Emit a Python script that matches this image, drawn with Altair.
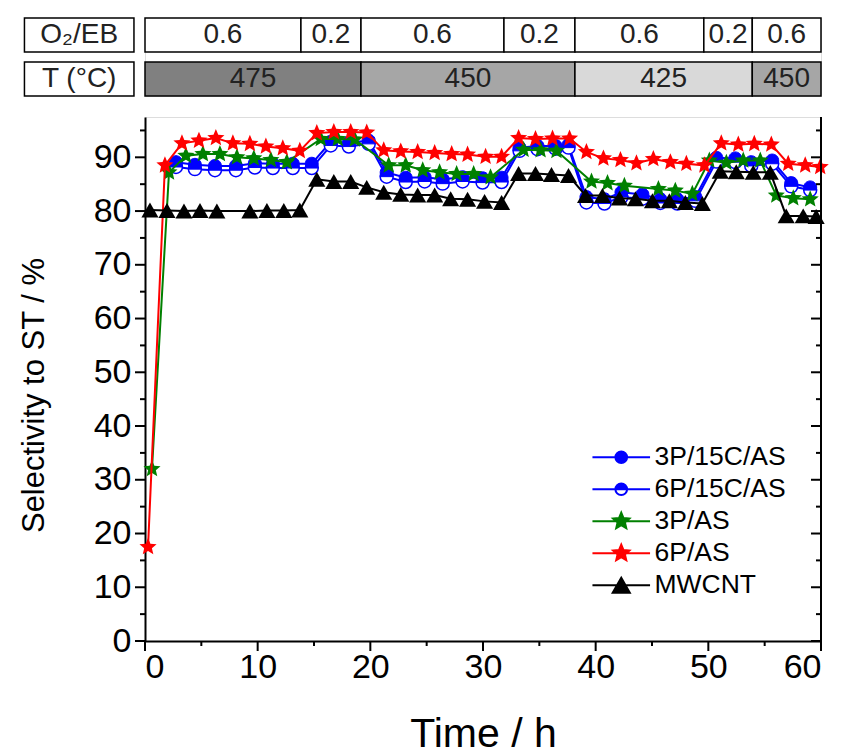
import altair as alt
import pandas as pd
import numpy as np

# ---------------- data ----------------
t_blue = [2.75, 4.43, 6.21, 8.07, 9.75, 11.35, 13.12, 14.80, 16.49, 18.09, 19.86,
          21.45, 23.14, 24.82, 26.42, 28.19, 29.96, 31.65, 33.24, 34.84, 36.44, 37.59,
          39.18, 40.78, 42.29, 44.15, 45.74, 47.25, 48.85, 50.71, 52.39, 53.81, 55.67,
          57.36, 59.04]
v_3p15c = [89.1, 88.6, 88.4, 88.4, 88.9, 88.8, 88.8, 88.8, 92.9, 92.7, 93.1,
           87.2, 86.2, 86.3, 85.9, 86.3, 86.1, 86.2, 91.8, 92.1, 92.1, 92.3,
           82.6, 82.2, 83.5, 83.1, 82.2, 82.2, 82.6, 89.9, 89.8, 89.1, 89.4,
           85.2, 84.4]
v_6p15c = [88.2, 87.8, 87.6, 87.6, 88.1, 88.0, 88.0, 88.0, 92.2, 92.0, 92.5,
           86.4, 85.4, 85.5, 85.1, 85.5, 85.3, 85.4, 91.2, 91.5, 91.6, 91.8,
           81.6, 81.4, 82.6, 82.3, 81.5, 81.4, 81.9, 89.2, 89.1, 88.4, 88.8,
           84.6, 83.9]

t_3pas = [0.62, 2.13, 3.63, 5.14, 6.65, 8.16, 9.66, 11.17, 12.59, 15.60, 17.11, 18.62,
          21.63, 23.14, 24.65, 26.15, 27.66, 29.17, 30.67, 33.60, 35.11, 36.52,
          39.63, 41.05, 42.55, 45.57, 47.07, 48.58, 50.09, 51.60, 53.10, 54.61,
          56.03, 57.54, 59.04]
v_3pas = [32.0, 87.2, 90.3, 90.6, 90.6, 90.0, 89.8, 89.5, 89.1, 93.4, 93.4, 93.3,
          88.5, 88.5, 87.6, 87.2, 86.9, 86.9, 86.3, 91.4, 91.3, 91.2,
          85.5, 85.2, 84.7, 84.1, 83.8, 83.2, 89.4, 89.0, 89.4, 89.4,
          82.9, 82.4, 82.2]

t_6pas = [0.27, 1.77, 3.28, 4.79, 6.29, 7.80, 9.31, 10.73, 12.23, 13.74, 15.25, 16.76,
          18.26, 19.68, 21.19, 22.70, 24.20, 25.71, 27.22, 28.63, 30.23, 31.65, 33.16,
          34.66, 36.17, 37.68, 39.18, 40.69, 42.20, 43.62, 45.12, 46.63, 48.05, 49.65,
          51.15, 52.66, 54.08, 55.59, 57.09, 58.60, 59.93]
v_6pas = [17.5, 88.5, 92.6, 93.1, 93.6, 92.6, 92.5, 92.0, 91.7, 91.2, 94.5, 94.7,
          94.7, 94.6, 91.3, 91.1, 91.0, 90.8, 90.6, 90.5, 90.1, 90.1, 93.6,
          93.4, 93.5, 93.5, 91.0, 89.8, 89.5, 88.9, 89.7, 89.1, 88.8, 88.5,
          92.6, 92.4, 92.5, 92.4, 88.8, 88.5, 88.2]

t_mw = [0.44, 1.95, 3.46, 4.88, 6.38, 9.31, 10.82, 12.32, 13.74, 15.25, 16.76, 18.26,
        19.68, 21.19, 22.70, 24.20, 25.71, 27.13, 28.63, 30.14, 31.65, 33.16, 34.66,
        36.08, 37.59, 39.10, 40.60, 42.11, 43.53, 45.04, 46.54, 47.96, 49.47, 51.06,
        52.48, 53.99, 55.50, 56.91, 58.42, 59.57]
v_mw = [80.2, 80.1, 80.0, 80.1, 80.0, 80.0, 80.1, 80.1, 80.2, 85.9, 85.5, 85.5,
        84.4, 83.5, 83.1, 83.0, 83.0, 82.3, 82.2, 81.8, 81.6, 87.0, 87.0,
        86.8, 86.6, 82.9, 82.9, 82.4, 82.3, 81.9, 81.9, 81.6, 81.4, 87.4,
        87.3, 87.2, 87.2, 79.1, 79.1, 79.0]

series_names = ["3P/15C/AS", "6P/15C/AS", "3P/AS", "6P/AS", "MWCNT"]
series_colors = ["#0000ff", "#0000ff", "#008000", "#ff0000", "#000000"]

# header bands
row_labels = ["O\u2082/EB", "T (\u00b0C)"]
o2eb_labels = ["0.6", "0.2", "0.6", "0.2", "0.6", "0.2", "0.6"]
o2eb_bounds = [0, 13.84, 19.17, 31.86, 38.16, 49.6, 53.9, 60]
temp_labels = ["475", "450", "425", "450"]
temp_bounds = [0, 19.17, 38.16, 53.9, 60]
temp_fills = ["#808080", "#a6a6a6", "#d9d9d9", "#a6a6a6"]
label_cell = [-10.7, -0.98]

x_major = list(range(0, 61, 10))
x_minor = list(range(5, 60, 10))
y_major = list(range(0, 91, 10))
y_minor = list(range(5, 96, 10))

# ---------------- styling ----------------
W, H = 676, 524
SANS = "Liberation Sans, Arial, sans-serif"


def star_path(r_out=1.0, r_in=0.45):
    pts = []
    for k in range(10):
        a = -np.pi / 2 + k * np.pi / 5
        r = r_out if k % 2 == 0 else r_in
        pts.append(f"{r*np.cos(a):.3f},{r*np.sin(a):.3f}")
    return "M" + "L".join(pts) + "Z"


R = 0.72
CIRCLE = f"M{R},0A{R},{R} 0 1 1 -{R},0A{R},{R} 0 1 1 {R},0Z"
HALF_TOP = f"M-{R},0A{R},{R} 0 0 1 {R},0Z"
STAR = star_path()
TRI = "M0,-0.83L0.95,0.83L-0.95,0.83Z"
SIZE = 324

LINE = "M-3.2,0H3.2"
RL = 0.65
leg_paths = [
    LINE + f"M{RL},0A{RL},{RL} 0 1 1 -{RL},0A{RL},{RL} 0 1 1 {RL},0Z",
    LINE + f"M-{RL},0A{RL},{RL} 0 0 1 {RL},0Z" + f"M-{RL},0A{RL},{RL} 0 0 0 {RL},0A{RL},{RL} 0 0 1 -{RL},0",
    LINE + star_path(0.95, 0.43),
    LINE + star_path(0.95, 0.43),
    LINE + "M0,-0.83L0.95,0.83L-0.95,0.83Z",
]

x_axis = alt.Axis(
    values=x_major, ticks=False, domainWidth=2, domainColor="black",
    labelFont=SANS, labelFontSize=34, labelColor="black", labelPadding=9,
    titleFont=SANS, titleFontSize=41, titleFontWeight="normal", titleColor="black",
    titlePadding=30, grid=False,
)
y_axis = alt.Axis(
    values=y_major, ticks=False, domainWidth=2, domainColor="black",
    labelFont=SANS, labelFontSize=34, labelColor="black", labelPadding=14,
    titleFont=SANS, titleFontSize=31, titleFontWeight="normal", titleColor="black",
    titleX=-111, titleY=278, titleBaseline="middle", titleAlign="center", titleAngle=270,
    grid=False,
)
xs = alt.Scale(domain=[0, 60], nice=False, zero=False)
ys = alt.Scale(domain=[0, 97.5], nice=False, zero=False)
X = alt.X("t:Q", scale=xs, axis=x_axis, title="Time / h")
Y = alt.Y("v:Q", scale=ys, axis=y_axis, title="Selectivity to ST / %")


def df(t, v, name):
    return pd.DataFrame({"t": t, "v": v, "series": name})


def line_layer(d, color):
    return alt.Chart(d).mark_line(color=color, strokeWidth=2).encode(x=X, y=Y)


def pts(d, shape, fill, stroke=None, sw=0):
    kw = dict(shape=shape, size=SIZE, filled=True, fill=fill, opacity=1)
    if stroke:
        kw.update(stroke=stroke, strokeWidth=sw)
    return alt.Chart(d).mark_point(**kw).encode(x=X, y=Y)


d1 = df(t_blue, v_3p15c, series_names[0])
d2 = df(t_blue, v_6p15c, series_names[1])
d3 = df(t_3pas, v_3pas, series_names[2])
d4 = df(t_6pas, v_6pas, series_names[3])
d5 = df(t_mw, v_mw, series_names[4])

layers = [
    line_layer(d1, series_colors[0]), pts(d1, CIRCLE, series_colors[0], series_colors[0], 1),
    line_layer(d2, series_colors[1]), pts(d2, CIRCLE, "white", series_colors[1], 1.5),
    pts(d2, HALF_TOP, series_colors[1], series_colors[1], 1),
    line_layer(d3, series_colors[2]), pts(d3, STAR, series_colors[2]),
    line_layer(d4, series_colors[3]), pts(d4, STAR, series_colors[3]),
    line_layer(d5, series_colors[4]), pts(d5, TRI, series_colors[4]),
]


def xticks(vals, length):
    return alt.Chart(pd.DataFrame({"t": vals})).mark_tick(
        color="black", thickness=2, size=length, opacity=1, clip=False
    ).encode(x=X, y=alt.value(H + length / 2))


def yticks(vals, length, xpos):
    return alt.Chart(pd.DataFrame({"v": vals})).mark_tick(
        color="black", thickness=2, size=length, opacity=1, clip=False
    ).encode(y=Y, x=alt.value(xpos))


tick_layers = [
    xticks(x_major, 10), xticks(x_minor, 5),
    yticks(y_major, 10, -5), yticks(y_minor, 5, -2.5),
    yticks(y_major, 10, W - 5), yticks(y_minor, 5, W - 2.5),
]
right_line = alt.Chart(pd.DataFrame({"v": [0]})).mark_rule(color="black", strokeWidth=2).encode(
    x=alt.value(W), y=alt.value(0), y2=alt.value(H)
)

# legend (library legend, fed by the series names)
LEG = dict(title=None, orient="none", legendX=463, legendY=426, symbolSize=SIZE, labelOffset=20,
           labelFont=SANS, labelFontSize=26.5, labelColor="black", rowPadding=5, padding=0,
           symbolStrokeWidth=2, labelLimit=300)
leg = alt.Chart(pd.DataFrame({"series": series_names})).transform_filter("false").mark_point(
    filled=True, opacity=1, strokeWidth=2
).encode(
    fill=alt.Fill("series:N", scale=alt.Scale(domain=series_names, range=series_colors), legend=alt.Legend(**LEG)),
    stroke=alt.Stroke("series:N", scale=alt.Scale(domain=series_names, range=series_colors), legend=alt.Legend(**LEG)),
    shape=alt.Shape("series:N", scale=alt.Scale(domain=series_names, range=leg_paths), legend=alt.Legend(**LEG)),
)

main = alt.layer(*layers, *tick_layers, right_line, leg).properties(width=W, height=H)

# header
rows = []
for i, lab in enumerate(o2eb_labels):
    rows.append(dict(row=row_labels[0], start=o2eb_bounds[i], end=o2eb_bounds[i + 1], label=lab, fill="white"))
for i, lab in enumerate(temp_labels):
    rows.append(dict(row=row_labels[1], start=temp_bounds[i], end=temp_bounds[i + 1], label=lab, fill=temp_fills[i]))
for r in row_labels:
    rows.append(dict(row=r, start=label_cell[0], end=label_cell[1], label=r, fill="white"))
hdr = pd.DataFrame(rows)
hdr["mid"] = (hdr["start"] + hdr["end"]) / 2

hx = alt.Scale(domain=[0, 60], nice=False, zero=False)
hy = alt.Scale(domain=row_labels, paddingInner=0.23, paddingOuter=0)
hbase = alt.Chart(hdr)
hrect = hbase.mark_rect(stroke="black", strokeWidth=1.5, clip=False).encode(
    x=alt.X("start:Q", scale=hx, axis=None), x2="end:Q",
    y=alt.Y("row:N", scale=hy, axis=None),
    fill=alt.Fill("fill:N", scale=None),
)
htext = hbase.mark_text(font=SANS, fontSize=28, color="#222222", clip=False, baseline="middle").encode(
    x=alt.X("mid:Q", scale=hx, axis=None), y=alt.Y("row:N", scale=hy, axis=None), text="label:N"
)
header = alt.layer(hrect, htext).properties(width=W, height=78)

chart = alt.vconcat(header, main, spacing=21, bounds="flush").properties(
    padding={"left": 9, "top": 8, "right": 10, "bottom": 5}
).configure_view(stroke=None).configure(background="white")

chart.save("out.html", embed_options={"renderer": "svg", "actions": False})
